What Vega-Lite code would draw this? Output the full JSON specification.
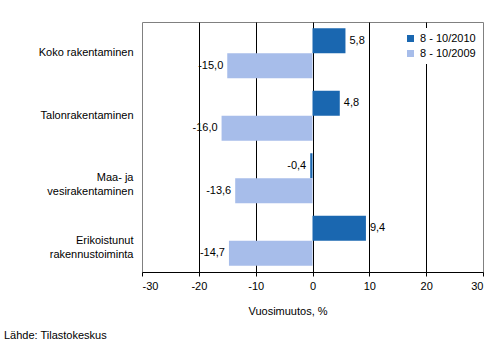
{
  "$schema": "https://vega.github.io/schema/vega-lite/v6.json",
  "autosize": {"type": "none"},
  "width": 341,
  "height": 250,
  "padding": {"left": 142, "top": 22, "right": 16, "bottom": 82},
  "background": "white",
  "config": {
    "font": "Liberation Sans",
    "view": {"stroke": "#808080", "strokeWidth": 1},
    "locale": {"number": {"decimal": ",", "thousands": " ", "grouping": [3], "currency": ["", " €"], "minus": "-"}}
  },
  "title": {
    "text": "Lähde: Tilastokeskus",
    "orient": "bottom",
    "anchor": "start",
    "frame": "group",
    "dx": -138,
    "offset": 14,
    "fontSize": 11,
    "fontWeight": "normal",
    "color": "black",
    "font": "Liberation Sans"
  },
  "data": {
    "values": [
      {"kategoria": "Koko rakentaminen", "jakso": "8 - 10/2010", "muutos": 5.8},
      {"kategoria": "Koko rakentaminen", "jakso": "8 - 10/2009", "muutos": -15.0},
      {"kategoria": "Talonrakentaminen", "jakso": "8 - 10/2010", "muutos": 4.8},
      {"kategoria": "Talonrakentaminen", "jakso": "8 - 10/2009", "muutos": -16.0},
      {"kategoria": "Maa- ja vesirakentaminen", "jakso": "8 - 10/2010", "muutos": -0.4},
      {"kategoria": "Maa- ja vesirakentaminen", "jakso": "8 - 10/2009", "muutos": -13.6},
      {"kategoria": "Erikoistunut rakennustoiminta", "jakso": "8 - 10/2010", "muutos": 9.4},
      {"kategoria": "Erikoistunut rakennustoiminta", "jakso": "8 - 10/2009", "muutos": -14.7}
    ]
  },
  "encoding": {
    "y": {
      "field": "kategoria",
      "type": "nominal",
      "sort": null,
      "scale": {"paddingInner": 0.2, "paddingOuter": 0.1},
      "axis": {
        "title": null,
        "domain": false,
        "ticks": false,
        "labelFontSize": 11,
        "labelColor": "black",
        "labelPadding": 9,
        "labelLineHeight": 14,
        "labelExpr": "datum.value == 'Maa- ja vesirakentaminen' ? ['Maa- ja\u00a0\u00a0\u00a0\u00a0\u00a0\u00a0\u00a0\u00a0', 'vesirakentaminen'] : datum.value == 'Erikoistunut rakennustoiminta' ? ['Erikoistunut\u00a0\u00a0\u00a0\u00a0', 'rakennustoiminta'] : datum.value"
      }
    },
    "yOffset": {
      "field": "jakso",
      "type": "nominal",
      "sort": ["8 - 10/2010", "8 - 10/2009"]
    },
    "x": {
      "field": "muutos",
      "type": "quantitative",
      "scale": {"domain": [-30, 30], "nice": false},
      "axis": {
        "title": "Vuosimuutos, %",
        "titleFontSize": 11,
        "titleFontWeight": "normal",
        "titleColor": "black",
        "titleX": 145.5,
        "titleY": 42,
        "titleBaseline": "alphabetic",
        "values": [-30, -20, -10, 0, 10, 20, 30],
        "format": "d",
        "labelFontSize": 11,
        "labelColor": "black",
        "labelPadding": 4,
        "tickSize": 4,
        "tickColor": "black",
        "domainColor": "black",
        "grid": true,
        "gridColor": {"condition": {"test": "abs(datum.value) == 30", "value": "transparent"}, "value": "black"},
        "gridOpacity": 1
      }
    }
  },
  "layer": [
    {
      "mark": {"type": "bar"},
      "encoding": {
        "color": {
          "field": "jakso",
          "type": "nominal",
          "sort": ["8 - 10/2010", "8 - 10/2009"],
          "scale": {"range": ["#1a67b0", "#a7bdea"]},
          "legend": {
            "title": null,
            "orient": "none",
            "legendX": 258,
            "legendY": 6,
            "symbolType": "square",
            "symbolSize": 49,
            "symbolStrokeWidth": 0,
            "symbolOpacity": 1,
            "labelFontSize": 11,
            "labelColor": "black",
            "labelOffset": 4,
            "rowPadding": 3,
            "fillColor": "white",
            "padding": 5
          }
        }
      }
    },
    {
      "transform": [{"filter": "datum.muutos >= 0"}],
      "mark": {"type": "text", "align": "left", "dx": 4, "fontSize": 11, "color": "black"},
      "encoding": {"text": {"field": "muutos", "type": "quantitative", "format": ".1f"}}
    },
    {
      "transform": [{"filter": "datum.muutos < 0"}],
      "mark": {"type": "text", "align": "right", "dx": -4, "fontSize": 11, "color": "black"},
      "encoding": {"text": {"field": "muutos", "type": "quantitative", "format": ".1f"}}
    }
  ]
}
